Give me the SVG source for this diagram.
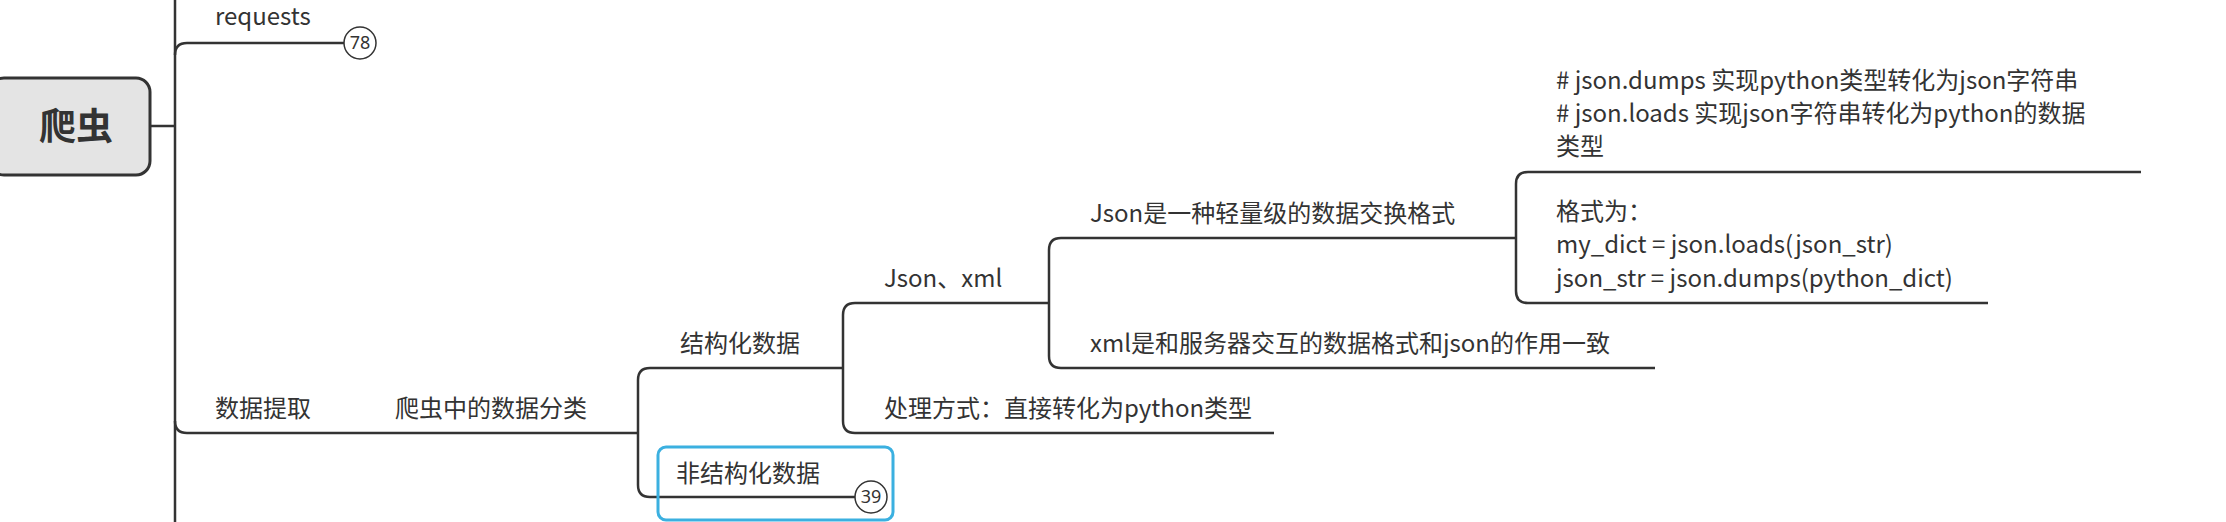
<svg xmlns="http://www.w3.org/2000/svg" width="2226" height="522" viewBox="0 0 2226 522">
<style>
.t{font-family:"Noto Sans CJK SC","Noto Sans",sans-serif;font-size:24px;fill:#333}
.c{fill:none;stroke:#333;stroke-width:2.5}
.n{fill:#fff;stroke:#333;stroke-width:1.5}
.nt{font-family:"Noto Sans",sans-serif;font-size:18px;fill:#333;text-anchor:middle}
</style>
<rect width="2226" height="522" fill="#fff"/>
<g id="connectors">
<path class="c" d="M150 126H175M175 0V522"/>
<path class="c" d="M175 55Q175 43 187 43H344"/>
<path class="c" d="M175 421Q175 433 187 433H638"/>
<path class="c" d="M843 368H650Q638 368 638 380V485Q638 497 650 497H855"/>
<path class="c" d="M1049 303H855Q843 303 843 315V421Q843 433 855 433H1274"/>
<path class="c" d="M1516 238H1061Q1049 238 1049 250V356Q1049 368 1061 368H1655"/>
<path class="c" d="M2141 172H1528Q1516 172 1516 184V291Q1516 303 1528 303H1988"/>
</g>
<g id="root"><rect x="-10" y="78" width="160" height="97" rx="14" fill="#e4e4e4" stroke="#333" stroke-width="3"/><text x="76" y="140" text-anchor="middle" style="font-family:'Noto Sans CJK SC',sans-serif;font-size:37px;font-weight:bold;fill:#333">爬虫</text></g>
<g id="requests"><text class="t" x="215" y="25">requests</text><circle class="n" cx="360" cy="43" r="16"/><text class="nt" x="360" y="49">78</text></g>
<g id="extract"><text class="t" x="215" y="417">数据提取</text></g>
<g id="classify"><text class="t" x="395" y="417">爬虫中的数据分类</text></g>
<g id="structured"><text class="t" x="680" y="352">结构化数据</text></g>
<g id="unstructured"><rect x="658" y="447" width="235" height="73" rx="8" fill="none" stroke="#3bb0e0" stroke-width="3"/><text class="t" x="676" y="482">非结构化数据</text><circle class="n" cx="871" cy="497" r="16"/><text class="nt" x="871" y="503">39</text></g>
<g id="jsonxml"><text class="t" x="884" y="287">Json、xml</text></g>
<g id="process"><text class="t" x="884" y="417">处理方式：直接转化为python类型</text></g>
<g id="json"><text class="t" x="1090" y="222">Json是一种轻量级的数据交换格式</text></g>
<g id="xml"><text class="t" x="1090" y="352">xml是和服务器交互的数据格式和json的作用一致</text></g>
<g id="note1"><text class="t" x="1556" y="89">#  json.dumps 实现python类型转化为json字符串</text><text class="t" x="1556" y="122">#  json.loads 实现json字符串转化为python的数据</text><text class="t" x="1556" y="155">类型</text></g>
<g id="note2"><text class="t" x="1556" y="220">格式为：</text><text class="t" x="1556" y="253">my_dict = json.loads(json_str)</text><text class="t" x="1556" y="287">json_str = json.dumps(python_dict)</text></g>
</svg>
